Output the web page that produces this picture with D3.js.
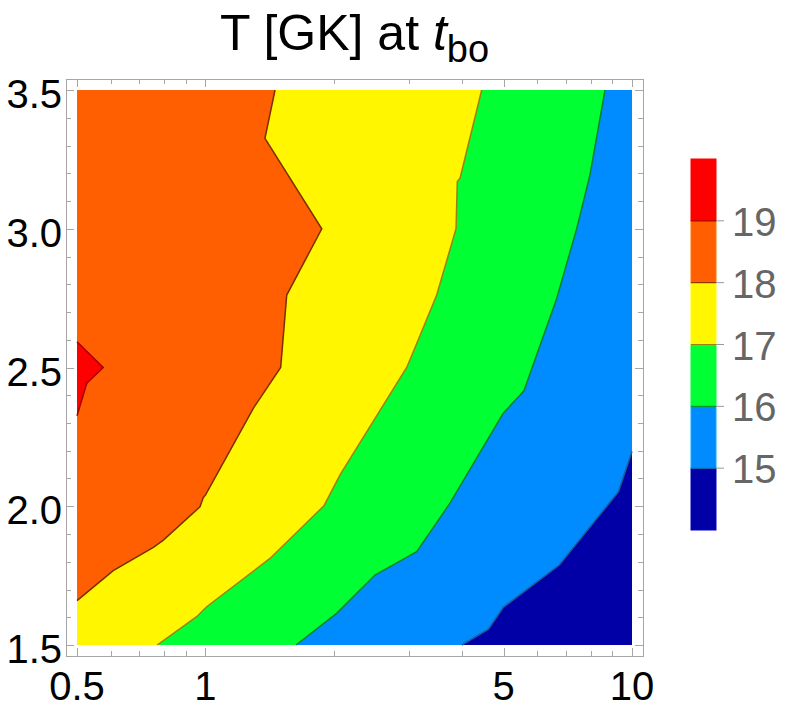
<!DOCTYPE html>
<html>
<head>
<meta charset="utf-8">
<script src="https://cdn.jsdelivr.net/npm/d3@7"></script>
<style>
  body { margin: 0; background: #fff; }
  svg { display: block; font-family: "Liberation Sans", Arial, sans-serif; }
</style>
</head>
<body>
<div id="chart"></div>
<script>
/**
 * DATA
 * */
const xTicksMajor = [0.5, 1, 5, 10];
const xTicksMinor = [0.6, 0.7, 0.8, 0.9, 2, 3, 4, 6, 7, 8, 9];
const yTicksMajor = [1.5, 2.0, 2.5, 3.0, 3.5];
const yTicksMinor = [1.6, 1.7, 1.8, 1.9, 2.1, 2.2, 2.3, 2.4, 2.6, 2.7, 2.8, 2.9, 3.1, 3.2, 3.3, 3.4];

// contour levels and the band colours (lowest band first)
const levels = [15, 16, 17, 18, 19];
const bandColors = ["#0000a6", "#008cff", "#00ff33", "#fff600", "#ff5f00", "#ff0000"];
const lineColors = ["#1f5f96", "#00842a", "#9a8200", "#7a2e00", "#a00000"];

// contour lines as [x, y] points, bottom to top
const contour15 = [[3.989, 1.5], [4.606, 1.557], [4.992, 1.636], [6.753, 1.788], [9.29, 2.052], [10, 2.197]];
const contour16 = [[1.631, 1.5], [2.031, 1.614], [2.498, 1.752], [3.129, 1.836], [3.744, 2.011], [4.992, 2.335],
  [5.581, 2.416], [6.661, 2.749], [7.42, 3.0], [7.97, 3.194], [8.647, 3.5]];
const contour17 = [[0.771, 1.5], [0.954, 1.602], [1.007, 1.638], [1.417, 1.812], [1.897, 2.002], [2.068, 2.113],
  [2.964, 2.5], [3.072, 2.557], [3.485, 2.761], [3.868, 3.0], [3.895, 3.17], [3.953, 3.182], [4.443, 3.5]];
const contour18 = [[0.5, 1.66], [0.608, 1.768], [0.755, 1.852], [0.797, 1.878], [0.971, 1.998], [0.989, 2.032],
  [1.0, 2.04], [1.295, 2.353], [1.501, 2.5], [1.551, 2.761], [1.874, 3.0], [1.379, 3.326], [1.456, 3.5]];
const contour19 = [[0.5, 2.593], [0.576, 2.5], [0.527, 2.443], [0.5, 2.326]];

const xDomain = [0.5, 10];
const yDomain = [1.5, 3.5];
const barDomain = [14, 20];

/**
 * LAYOUT
 * */
const width = 789, height = 713;
const frame = { left: 66, right: 643, top: 79, bottom: 656 };
const pad = 11;

const svg = d3.select("#chart").append("svg")
  .attr("width", width)
  .attr("height", height);

const xScale = d3.scaleLog().domain(xDomain).range([frame.left + pad, frame.right - pad]);
const yScale = d3.scaleLinear().domain(yDomain).range([frame.bottom - pad, frame.top + pad]);

const line = d3.line().x(d => xScale(d[0])).y(d => yScale(d[1]));

// close a contour into the region on its lower-valued (right) side
function regionRight(pts) {
  const poly = [];
  const first = pts[0], last = pts[pts.length - 1];
  if (first[1] > yDomain[0]) poly.push([first[0], yDomain[0]]);
  poly.push(...pts);
  if (last[1] >= yDomain[1]) poly.push([xDomain[1], yDomain[1]]);
  poly.push([xDomain[1], yDomain[0]]);
  return poly;
}

// base band (18-19)
svg.append("rect")
  .attr("x", xScale(xDomain[0]))
  .attr("y", yScale(yDomain[1]))
  .attr("width", xScale(xDomain[1]) - xScale(xDomain[0]))
  .attr("height", yScale(yDomain[0]) - yScale(yDomain[1]))
  .attr("fill", bandColors[4]);

// red island
svg.append("path")
  .attr("d", line(contour19) + "Z")
  .attr("fill", bandColors[5]);

const contours = [contour18, contour17, contour16, contour15];
const contourIdx = [3, 2, 1, 0];
contours.forEach((c, i) => {
  svg.append("path")
    .attr("d", line(regionRight(c)) + "Z")
    .attr("fill", bandColors[contourIdx[i]]);
});

// contour lines
svg.append("path")
  .attr("d", line(contour19))
  .attr("fill", "none")
  .attr("stroke", lineColors[4])
  .attr("stroke-width", 1.5);
contours.forEach((c, i) => {
  svg.append("path")
    .attr("d", line(c))
    .attr("fill", "none")
    .attr("stroke", lineColors[contourIdx[i]])
    .attr("stroke-width", 1.5);
});

// FRAME
const frameColor = "#a6a6a6";
svg.append("rect")
  .attr("x", frame.left + 0.5)
  .attr("y", frame.top + 0.5)
  .attr("width", frame.right - frame.left)
  .attr("height", frame.bottom - frame.top)
  .attr("fill", "none")
  .attr("stroke", frameColor)
  .attr("stroke-width", 1);

const ticks = svg.append("g").attr("stroke", frameColor).attr("stroke-width", 1);
function xTick(v, len) {
  const x = Math.round(xScale(v)) + 0.5;
  ticks.append("line").attr("x1", x).attr("x2", x).attr("y1", frame.bottom).attr("y2", frame.bottom - len);
  ticks.append("line").attr("x1", x).attr("x2", x).attr("y1", frame.top).attr("y2", frame.top + len);
}
function yTick(v, len) {
  const y = Math.round(yScale(v)) + 0.5;
  ticks.append("line").attr("x1", frame.left).attr("x2", frame.left + len).attr("y1", y).attr("y2", y);
  ticks.append("line").attr("x1", frame.right).attr("x2", frame.right - len).attr("y1", y).attr("y2", y);
}
xTicksMajor.forEach(v => xTick(v, 8));
xTicksMinor.forEach(v => xTick(v, 5));
yTicksMajor.forEach(v => yTick(v, 8));
yTicksMinor.forEach(v => yTick(v, 5));

// tick labels
svg.append("g").selectAll("text")
  .data(xTicksMajor)
  .join("text")
  .attr("x", d => xScale(d))
  .attr("y", 700)
  .attr("text-anchor", "middle")
  .attr("font-size", 40)
  .attr("fill", "#000")
  .text(d => d);

svg.append("g").selectAll("text")
  .data(yTicksMajor)
  .join("text")
  .attr("x", 62)
  .attr("y", d => yScale(d) + 18)
  .attr("text-anchor", "end")
  .attr("font-size", 40)
  .attr("fill", "#000")
  .text(d => d3.format(".1f")(d));

// TITLE
const title = svg.append("text")
  .attr("x", (frame.left + frame.right) / 2)
  .attr("y", 50)
  .attr("text-anchor", "middle")
  .attr("font-size", 50)
  .attr("fill", "#000");
title.append("tspan").text("T [GK] at ");
title.append("tspan").attr("font-style", "italic").text("t");
title.append("tspan").attr("font-size", 38).attr("dy", 12).text("bo");

// COLOR BAR
const bar = { x: 691, w: 25 };
const barScale = d3.scaleLinear().domain(barDomain).range([530, 159]);
const bands = d3.range(barDomain[0], barDomain[1]);
svg.append("g").selectAll("rect")
  .data(bands)
  .join("rect")
  .attr("x", bar.x)
  .attr("y", d => barScale(d + 1))
  .attr("width", bar.w)
  .attr("height", d => barScale(d) - barScale(d + 1))
  .attr("fill", (d, i) => bandColors[i])
  .attr("stroke", (d, i) => d3.color(bandColors[i]).brighter(0.6))
  .attr("stroke-width", 1);

svg.append("g").selectAll("line.sep")
  .data(levels)
  .join("line")
  .attr("class", "sep")
  .attr("x1", bar.x)
  .attr("x2", bar.x + bar.w)
  .attr("y1", d => barScale(d))
  .attr("y2", d => barScale(d))
  .attr("stroke", (d, i) => lineColors[i])
  .attr("stroke-width", 1);

svg.append("g").selectAll("line.tk")
  .data(levels)
  .join("line")
  .attr("class", "tk")
  .attr("x1", bar.x + bar.w)
  .attr("x2", bar.x + bar.w + 8)
  .attr("y1", d => barScale(d))
  .attr("y2", d => barScale(d))
  .attr("stroke", "#999")
  .attr("stroke-width", 1);

svg.append("g").selectAll("text")
  .data(levels)
  .join("text")
  .attr("x", 732)
  .attr("y", d => barScale(d) + 15)
  .attr("font-size", 40)
  .attr("fill", "#666")
  .text(d => d);
</script>
</body>
</html>
